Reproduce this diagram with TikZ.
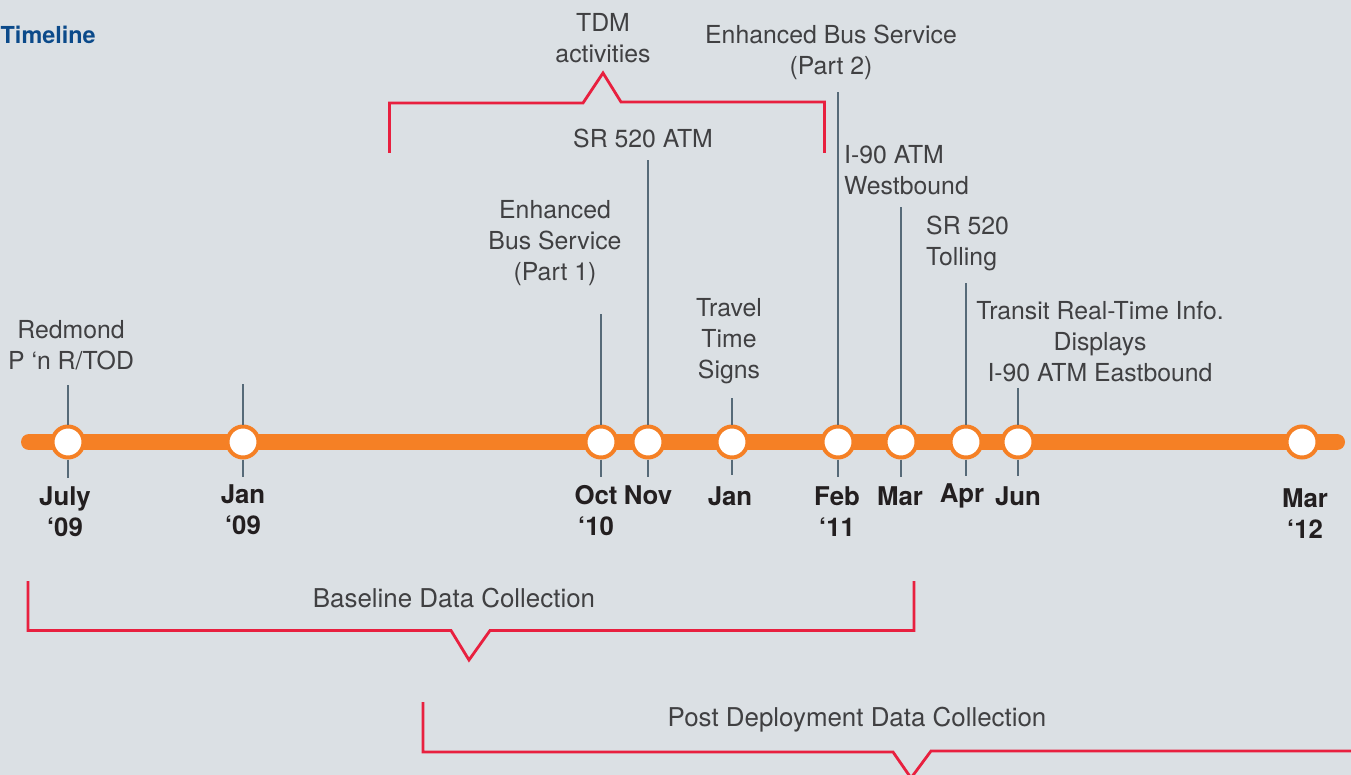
\documentclass[tikz,border=0pt]{standalone}
\usepackage{fontspec}
\setmainfont{TeX Gyre Heros}
\definecolor{bg}{HTML}{DBE0E4}
\definecolor{barorange}{HTML}{F58025}
\definecolor{stemgrey}{HTML}{566A78}
\definecolor{bracketred}{HTML}{E8203F}
\definecolor{labelgrey}{HTML}{404042}
\definecolor{dateblack}{HTML}{231F20}
\definecolor{titleblue}{HTML}{0B4A8A}
\tikzset{
  marker/.style={circle,draw=barorange,fill=white,line width=4pt,minimum size=31pt,inner sep=0pt},
  bar/.style={draw=barorange,line width=16pt,line cap=round},
  stem/.style={draw=stemgrey,line width=1.7pt},
  bracket/.style={draw=bracketred,line width=2.8pt,miter limit=10},
  lab/.style={text=labelgrey,font=\fontsize{24.8}{31}\selectfont,align=center,inner sep=0pt},
  labl/.style={lab,align=left,anchor=west},
  biglab/.style={lab,font=\fontsize{25.9}{31}\selectfont},
  datelab/.style={text=dateblack,font=\fontsize{25.8}{31}\selectfont\bfseries,align=center,inner sep=0pt},
}
\begin{document}
\begin{tikzpicture}[x=1pt,y=-1pt]
\useasboundingbox (0,0) rectangle (1351,775);
\clip (0,0) rectangle (1351,775);
\fill[bg] (0,0) rectangle (1351,775);
\node[text=titleblue,font=\fontsize{23.4}{27}\selectfont\bfseries,anchor=west,inner sep=0pt] (title) at (0.5,35) {Timeline};
% bar
\coordinate (barL) at (29,442);
\coordinate (barR) at (1337,442);
\draw[bar] (barL) -- (barR);
% markers
\foreach \n/\x in {a/68,b/243,c/601,d/648,e/732,f/838,g/901,h/966,i/1018,j/1302}
  \node[marker] (m\n) at (\x,442) {};
% stem ends
\foreach \n/\x/\t/\b in {a/68/385/478,b/243/384/477,c/601/314/477,d/648/160/477,e/732/398/475,f/838/92/477,g/901/207/477,h/966/283/476,i/1018/388/476}{
  \coordinate (t\n) at (\x,\t);
  \coordinate (u\n) at (\x,\b);
  \draw[stem] (m\n) -- (t\n);
  \draw[stem] (m\n) -- (u\n);
}
% labels
\node[lab] (l1) at (603,38) {TDM\\activities};
\node[lab] (l2) at (831,52.5) {Enhanced Bus Service\\(Part 2)};
\node[lab] (l3) at (643,138) {SR 520 ATM};
\node[lab] (l4) at (555,243.5) {Enhanced\\Bus Service\\(Part 1)};
\node[lab] (l5) at (729,341.5) {Travel\\Time\\Signs};
\node[lab] (l6) at (71,345.5) {Redmond\\P ‘n R/TOD};
\node[labl] (l7) at (844,170) {I-90 ATM\\Westbound};
\node[labl] (l8) at (926,243.5) {SR 520\\Tolling};
\node[lab] (l9) at (1100,341.5) {Transit Real-Time Info.\\Displays\\I-90 ATM Eastbound};
% dates
\node[datelab] (d1) at (65,512) {July\\‘09};
\node[datelab] (d2) at (243,510) {Jan\\‘09};
\node[datelab] (d3) at (596,510.5) {Oct\\‘10};
\node[datelab] (d4) at (648,495) {Nov};
\node[datelab] (d5) at (730,496) {Jan};
\node[datelab] (d6) at (837,511.5) {Feb\\‘11};
\node[datelab] (d7) at (900,496) {Mar};
\node[datelab] (d8) at (962,496) {Apr};
\node[datelab] (d9) at (1018,496) {Jun};
\node[datelab] (d10) at (1305,513.5) {Mar\\‘12};
% brackets
\coordinate (tdmA) at (389.5,153);
\coordinate (tdmB) at (824.5,153);
\draw[bracket] (tdmA) -- (389.5,103) -- (583,103) -- (603,73) -- (621,102) -- (824.5,102) -- (tdmB);
\coordinate (baseA) at (28,581);
\coordinate (baseB) at (914,581);
\draw[bracket] (baseA) -- (28,630.5) -- (451,630.5) -- (469,660) -- (490,630.5) -- (914,630.5) -- (baseB);
\coordinate (postA) at (423,702);
\coordinate (postB) at (1360,751);
\draw[bracket] (postA) -- (423,752) -- (893,752) -- (911,778) -- (931,751) -- (postB);
\node[biglab] (l10) at (454,598) {Baseline Data Collection};
\node[biglab] (l11) at (857,720) {Post Deployment Data Collection};
\end{tikzpicture}
\end{document}
